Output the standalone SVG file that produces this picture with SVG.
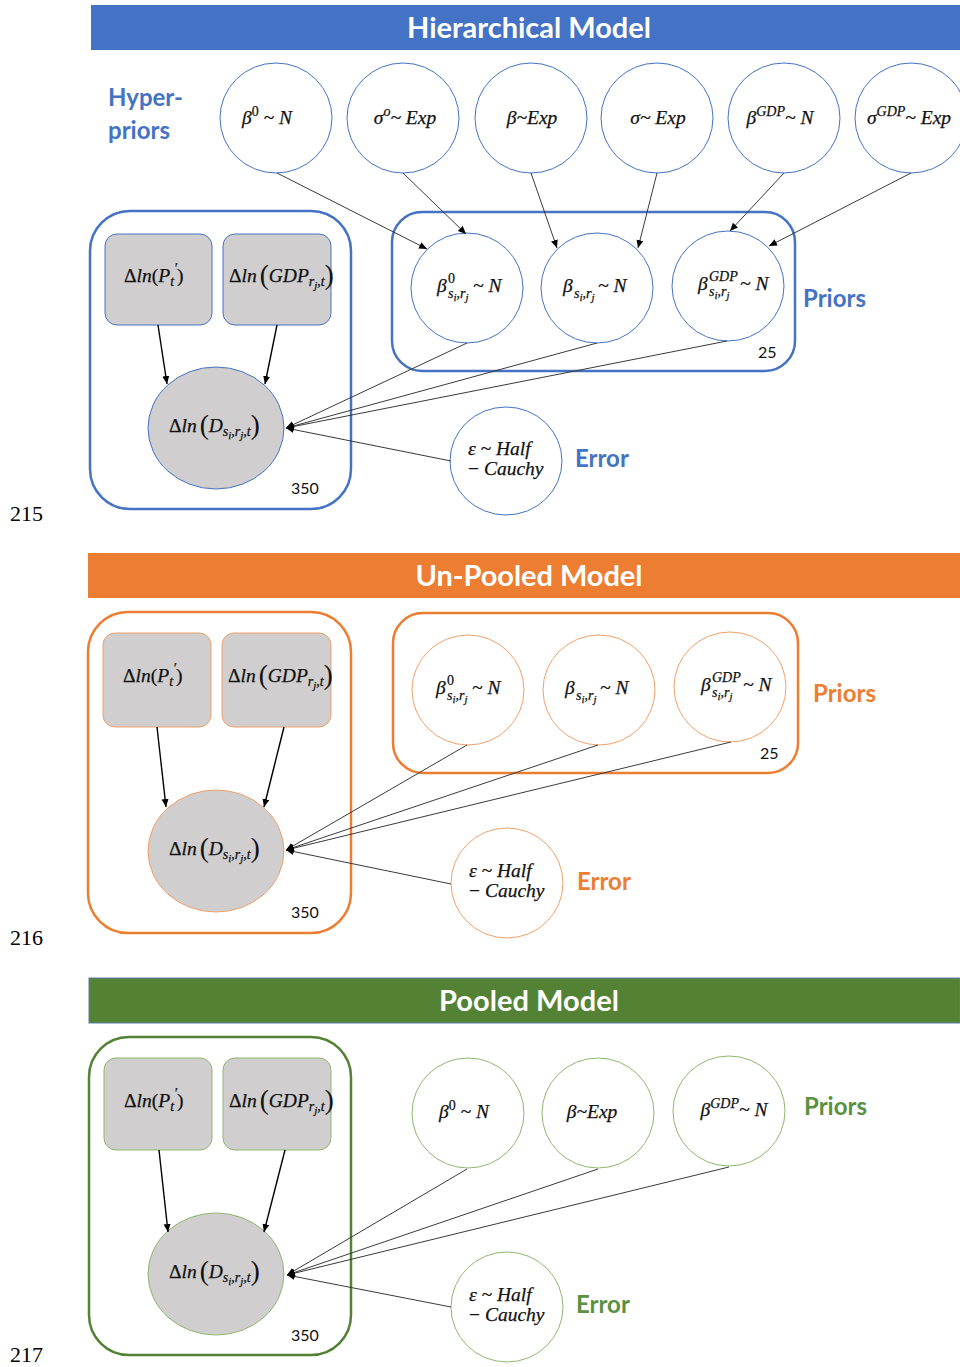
<svg xmlns="http://www.w3.org/2000/svg" width="960" height="1367" viewBox="0 0 960 1367">
  <defs>
    <marker id="arr" markerUnits="userSpaceOnUse" markerWidth="9" markerHeight="8" refX="8" refY="3.5" orient="auto">
      <path d="M0,0 L8,3.5 L0,7 z" fill="#000"/>
    </marker>
    <style>
      .bar-title { font-family: Lato, "Liberation Sans", sans-serif; font-weight: 700; font-size: 29px; fill: #fff; }
      .lbl { font-family: Lato, "Liberation Sans", sans-serif; font-weight: 700; font-size: 24px; }
      .cnt { font-family: Lato, "Liberation Sans", sans-serif; font-size: 16px; fill: #111; }
      .lineno { font-family: "Liberation Serif", serif; font-size: 22px; fill: #000; }
      .m { font-family: "Liberation Serif", "DejaVu Serif", serif; font-style: italic; font-size: 19.5px; fill: #111; stroke: #111; stroke-width: 0.25; }
      .up { font-style: normal; }
      .sup, .sub { font-size: 14px; }
      .ss { font-size: 11px; }
      .big { font-style: normal; font-size: 27px; stroke-width: 0.1; }
      .obs { fill: #D0CECE; }
      .free { fill: #fff; }
      .plate { fill: none; stroke-width: 2.5; }
      .b .node { stroke: #4472C4; stroke-width: 1; }
      .o .node { stroke: #F0A06A; stroke-width: 1; }
      .g .node { stroke: #8DB870; stroke-width: 1; }
      .b .plate { stroke: #4472C4; }
      .o .plate { stroke: #ED7D31; }
      .g .plate { stroke: #548235; }
      .b .lbl { fill: #4472C4; }
      .o .lbl { fill: #ED7D31; }
      .g .lbl { fill: #5A9140; }
      .edges line { stroke: #3a3a3a; stroke-width: 1; }
      .edges .dep { stroke: #000; stroke-width: 1.4; }
    </style>
  </defs>
  <rect width="960" height="1367" fill="#fff"/>

  <!-- ===================== Hierarchical model ===================== -->
  <g id="hierarchical" class="b">
    <rect x="91" y="5" width="869" height="45" fill="#4472C4"/>
    <text class="bar-title" x="529" y="38" text-anchor="middle" textLength="244">Hierarchical Model</text>
    <text class="lbl" x="108" y="106">Hyper-</text>
    <text class="lbl" x="108" y="139">priors</text>

    <rect class="plate" x="90" y="211" width="261" height="298" rx="40"/>
    <text class="cnt" x="291" y="494">350</text>
    <rect class="plate" x="392" y="212" width="403" height="159" rx="30"/>
    <text class="cnt" x="758" y="358">25</text>
    <text class="lbl" x="803" y="307">Priors</text>
    <text class="lbl" x="575" y="467">Error</text>

    <g id="h-hp-b0">
      <ellipse class="node free" cx="276" cy="118" rx="56" ry="55"/>
      <text class="m" x="267" y="124" text-anchor="middle">β<tspan class="sup up" dy="-8">0</tspan><tspan dy="8"> ~ N</tspan></text>
    </g>
    <g id="h-hp-s0">
      <ellipse class="node free" cx="403" cy="118" rx="56" ry="55"/>
      <text class="m" x="405" y="124" text-anchor="middle">σ<tspan class="sup" dy="-8">o</tspan><tspan dy="8">~ Exp</tspan></text>
    </g>
    <g id="h-hp-b">
      <ellipse class="node free" cx="531" cy="118" rx="56" ry="55"/>
      <text class="m" x="532" y="124" text-anchor="middle">β~Exp</text>
    </g>
    <g id="h-hp-s">
      <ellipse class="node free" cx="657" cy="118" rx="56" ry="55"/>
      <text class="m" x="658" y="124" text-anchor="middle">σ~ Exp</text>
    </g>
    <g id="h-hp-bgdp">
      <ellipse class="node free" cx="784" cy="118" rx="56" ry="55"/>
      <text class="m" x="780" y="124" text-anchor="middle">β<tspan class="sup" dy="-8">GDP</tspan><tspan dy="8">~ N</tspan></text>
    </g>
    <g id="h-hp-sgdp">
      <ellipse class="node free" cx="911" cy="118" rx="56" ry="55"/>
      <text class="m" x="909" y="124" text-anchor="middle">σ<tspan class="sup" dy="-8">GDP</tspan><tspan dy="8">~ Exp</tspan></text>
    </g>

    <g id="h-p">
      <rect class="node obs" x="105" y="234" width="107" height="91" rx="12"/>
      <text class="m" x="124" y="282"><tspan class="up">Δ</tspan>ln<tspan class="up">(</tspan>P<tspan class="sub" dy="4">t</tspan><tspan class="sup" dy="-13">′</tspan><tspan class="up" dy="9">)</tspan></text>
    </g>
    <g id="h-gdp">
      <rect class="node obs" x="223" y="234" width="108" height="91" rx="12"/>
      <text class="m" x="229" y="282"><tspan class="up">Δ</tspan>ln<tspan class="big" dx="3" dy="2">(</tspan><tspan dy="-2">GDP</tspan><tspan class="sub" dy="4">r</tspan><tspan class="ss" dy="3">j</tspan><tspan class="sub" dy="-3">,t</tspan><tspan class="big" dy="-2">)</tspan></text>
    </g>
    <g id="h-d">
      <ellipse class="node obs" cx="216" cy="428" rx="68" ry="61"/>
      <text class="m" x="169" y="432"><tspan class="up">Δ</tspan>ln<tspan class="big" dx="3" dy="2">(</tspan><tspan dy="-2">D</tspan><tspan class="sub" dy="4">s</tspan><tspan class="ss" dy="3">i</tspan><tspan class="sub" dy="-3">,r</tspan><tspan class="ss" dy="3">j</tspan><tspan class="sub" dy="-3">,t</tspan><tspan class="big" dy="-2">)</tspan></text>
    </g>

    <g id="h-b0">
      <ellipse class="node free" cx="467" cy="288" rx="56" ry="55"/>
      <text class="m" x="437" y="292">β<tspan class="sup up" x="448" y="283">0</tspan><tspan class="sub" x="448" y="298">s</tspan><tspan class="ss" dy="3">i</tspan><tspan class="sub" dy="-3">,r</tspan><tspan class="ss" dy="3">j</tspan><tspan x="473" y="292">~ N</tspan></text>
    </g>
    <g id="h-b">
      <ellipse class="node free" cx="597" cy="288" rx="56" ry="55"/>
      <text class="m" x="563" y="292">β<tspan class="sub" x="574" y="298">s</tspan><tspan class="ss" dy="3">i</tspan><tspan class="sub" dy="-3">,r</tspan><tspan class="ss" dy="3">j</tspan><tspan x="598" y="292">~ N</tspan></text>
    </g>
    <g id="h-bgdp">
      <ellipse class="node free" cx="728" cy="286" rx="56" ry="55"/>
      <text class="m" x="698" y="290">β<tspan class="sup" x="709" y="281">GDP</tspan><tspan class="sub" x="709" y="296">s</tspan><tspan class="ss" dy="3">i</tspan><tspan class="sub" dy="-3">,r</tspan><tspan class="ss" dy="3">j</tspan><tspan x="740" y="290">~ N</tspan></text>
    </g>
    <g id="h-err">
      <ellipse class="node free" cx="506" cy="461" rx="56" ry="54"/>
      <text class="m" x="468" y="455">ε ~ Half</text>
      <text class="m" x="468" y="475"><tspan class="up">−</tspan> Cauchy</text>
    </g>
  </g>
  <g id="hierarchical-edges" class="edges">
    <line class="dep" x1="158" y1="325" x2="167" y2="384" marker-end="url(#arr)"/>
    <line class="dep" x1="277" y1="325" x2="265" y2="384" marker-end="url(#arr)"/>
    <line x1="277" y1="173" x2="427" y2="249" marker-end="url(#arr)"/>
    <line x1="403" y1="173" x2="466" y2="234" marker-end="url(#arr)"/>
    <line x1="531" y1="173" x2="557" y2="248" marker-end="url(#arr)"/>
    <line x1="657" y1="173" x2="638" y2="248" marker-end="url(#arr)"/>
    <line x1="784" y1="173" x2="730" y2="231" marker-end="url(#arr)"/>
    <line x1="911" y1="173" x2="769" y2="246" marker-end="url(#arr)"/>
    <line x1="467" y1="343" x2="286" y2="428" marker-end="url(#arr)"/>
    <line x1="597" y1="343" x2="286" y2="428" marker-end="url(#arr)"/>
    <line x1="727" y1="341" x2="286" y2="428" marker-end="url(#arr)"/>
    <line x1="451" y1="461" x2="286" y2="428" marker-end="url(#arr)"/>
  </g>
  <text class="lineno" x="10" y="521">215</text>

  <!-- ===================== Un-pooled model ===================== -->
  <g id="unpooled" class="o">
    <rect x="88" y="553" width="872" height="45" fill="#ED7D31"/>
    <text class="bar-title" x="529" y="586" text-anchor="middle" textLength="227">Un-Pooled Model</text>

    <rect class="plate" x="88" y="612" width="263" height="321" rx="40"/>
    <text class="cnt" x="291" y="918">350</text>
    <rect class="plate" x="393" y="613" width="405" height="160" rx="30"/>
    <text class="cnt" x="760" y="759">25</text>
    <text class="lbl" x="813" y="702">Priors</text>
    <text class="lbl" x="577" y="890">Error</text>

    <g id="u-p">
      <rect class="node obs" x="103" y="633" width="108" height="94" rx="12"/>
      <text class="m" x="123" y="682"><tspan class="up">Δ</tspan>ln<tspan class="up">(</tspan>P<tspan class="sub" dy="4">t</tspan><tspan class="sup" dy="-13">′</tspan><tspan class="up" dy="9">)</tspan></text>
    </g>
    <g id="u-gdp">
      <rect class="node obs" x="222" y="633" width="109" height="94" rx="12"/>
      <text class="m" x="228" y="682"><tspan class="up">Δ</tspan>ln<tspan class="big" dx="3" dy="2">(</tspan><tspan dy="-2">GDP</tspan><tspan class="sub" dy="4">r</tspan><tspan class="ss" dy="3">j</tspan><tspan class="sub" dy="-3">,t</tspan><tspan class="big" dy="-2">)</tspan></text>
    </g>
    <g id="u-d">
      <ellipse class="node obs" cx="216" cy="851" rx="68" ry="61"/>
      <text class="m" x="169" y="855"><tspan class="up">Δ</tspan>ln<tspan class="big" dx="3" dy="2">(</tspan><tspan dy="-2">D</tspan><tspan class="sub" dy="4">s</tspan><tspan class="ss" dy="3">i</tspan><tspan class="sub" dy="-3">,r</tspan><tspan class="ss" dy="3">j</tspan><tspan class="sub" dy="-3">,t</tspan><tspan class="big" dy="-2">)</tspan></text>
    </g>
    <g id="u-b0">
      <ellipse class="node free" cx="468" cy="690" rx="56" ry="55"/>
      <text class="m" x="436" y="694">β<tspan class="sup up" x="447" y="685">0</tspan><tspan class="sub" x="447" y="700">s</tspan><tspan class="ss" dy="3">i</tspan><tspan class="sub" dy="-3">,r</tspan><tspan class="ss" dy="3">j</tspan><tspan x="472" y="694">~ N</tspan></text>
    </g>
    <g id="u-b">
      <ellipse class="node free" cx="599" cy="690" rx="56" ry="55"/>
      <text class="m" x="565" y="694">β<tspan class="sub" x="576" y="700">s</tspan><tspan class="ss" dy="3">i</tspan><tspan class="sub" dy="-3">,r</tspan><tspan class="ss" dy="3">j</tspan><tspan x="600" y="694">~ N</tspan></text>
    </g>
    <g id="u-bgdp">
      <ellipse class="node free" cx="730" cy="687" rx="56" ry="55"/>
      <text class="m" x="701" y="691">β<tspan class="sup" x="712" y="682">GDP</tspan><tspan class="sub" x="712" y="697">s</tspan><tspan class="ss" dy="3">i</tspan><tspan class="sub" dy="-3">,r</tspan><tspan class="ss" dy="3">j</tspan><tspan x="743" y="691">~ N</tspan></text>
    </g>
    <g id="u-err">
      <ellipse class="node free" cx="507" cy="883" rx="56" ry="55"/>
      <text class="m" x="469" y="877">ε ~ Half</text>
      <text class="m" x="469" y="897"><tspan class="up">−</tspan> Cauchy</text>
    </g>
  </g>
  <g id="unpooled-edges" class="edges">
    <line class="dep" x1="157" y1="727" x2="166" y2="807" marker-end="url(#arr)"/>
    <line class="dep" x1="284" y1="727" x2="264" y2="807" marker-end="url(#arr)"/>
    <line x1="467" y1="745" x2="286" y2="850" marker-end="url(#arr)"/>
    <line x1="598" y1="745" x2="286" y2="850" marker-end="url(#arr)"/>
    <line x1="731" y1="742" x2="286" y2="850" marker-end="url(#arr)"/>
    <line x1="451" y1="884" x2="286" y2="850" marker-end="url(#arr)"/>
  </g>
  <text class="lineno" x="10" y="945">216</text>

  <!-- ===================== Pooled model ===================== -->
  <g id="pooled" class="g">
    <rect x="89" y="978" width="871" height="45" fill="#548235" stroke="#5B7FA8" stroke-width="1"/>
    <text class="bar-title" x="529" y="1011" text-anchor="middle" textLength="180">Pooled Model</text>

    <rect class="plate" x="89" y="1037" width="262" height="318" rx="40"/>
    <text class="cnt" x="291" y="1341">350</text>
    <text class="lbl" x="804" y="1115">Priors</text>
    <text class="lbl" x="576" y="1313">Error</text>

    <g id="p-p">
      <rect class="node obs" x="104" y="1058" width="108" height="92" rx="12"/>
      <text class="m" x="124" y="1107"><tspan class="up">Δ</tspan>ln<tspan class="up">(</tspan>P<tspan class="sub" dy="4">t</tspan><tspan class="sup" dy="-13">′</tspan><tspan class="up" dy="9">)</tspan></text>
    </g>
    <g id="p-gdp">
      <rect class="node obs" x="223" y="1058" width="108" height="92" rx="12"/>
      <text class="m" x="229" y="1107"><tspan class="up">Δ</tspan>ln<tspan class="big" dx="3" dy="2">(</tspan><tspan dy="-2">GDP</tspan><tspan class="sub" dy="4">r</tspan><tspan class="ss" dy="3">j</tspan><tspan class="sub" dy="-3">,t</tspan><tspan class="big" dy="-2">)</tspan></text>
    </g>
    <g id="p-d">
      <ellipse class="node obs" cx="216" cy="1274" rx="68" ry="61"/>
      <text class="m" x="169" y="1278"><tspan class="up">Δ</tspan>ln<tspan class="big" dx="3" dy="2">(</tspan><tspan dy="-2">D</tspan><tspan class="sub" dy="4">s</tspan><tspan class="ss" dy="3">i</tspan><tspan class="sub" dy="-3">,r</tspan><tspan class="ss" dy="3">j</tspan><tspan class="sub" dy="-3">,t</tspan><tspan class="big" dy="-2">)</tspan></text>
    </g>
    <g id="p-b0">
      <ellipse class="node free" cx="468" cy="1113" rx="56" ry="55"/>
      <text class="m" x="464" y="1118" text-anchor="middle">β<tspan class="sup up" dy="-8">0</tspan><tspan dy="8"> ~ N</tspan></text>
    </g>
    <g id="p-b">
      <ellipse class="node free" cx="598" cy="1113" rx="56" ry="55"/>
      <text class="m" x="592" y="1118" text-anchor="middle">β~Exp</text>
    </g>
    <g id="p-bgdp">
      <ellipse class="node free" cx="729" cy="1111" rx="56" ry="55"/>
      <text class="m" x="734" y="1116" text-anchor="middle">β<tspan class="sup" dy="-8">GDP</tspan><tspan dy="8">~ N</tspan></text>
    </g>
    <g id="p-err">
      <ellipse class="node free" cx="507" cy="1307" rx="56" ry="55"/>
      <text class="m" x="469" y="1301">ε ~ Half</text>
      <text class="m" x="469" y="1321"><tspan class="up">−</tspan> Cauchy</text>
    </g>
  </g>
  <g id="pooled-edges" class="edges">
    <line class="dep" x1="159" y1="1150" x2="168" y2="1232" marker-end="url(#arr)"/>
    <line class="dep" x1="285" y1="1150" x2="264" y2="1232" marker-end="url(#arr)"/>
    <line x1="467" y1="1169" x2="287" y2="1275" marker-end="url(#arr)"/>
    <line x1="598" y1="1169" x2="287" y2="1275" marker-end="url(#arr)"/>
    <line x1="729" y1="1167" x2="287" y2="1275" marker-end="url(#arr)"/>
    <line x1="451" y1="1307" x2="287" y2="1275" marker-end="url(#arr)"/>
  </g>
  <text class="lineno" x="10" y="1362">217</text>
</svg>
